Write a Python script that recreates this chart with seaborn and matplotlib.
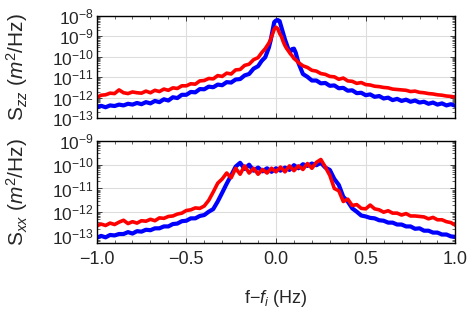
import numpy as np
import pandas as pd
import matplotlib
matplotlib.use("Agg")
import matplotlib.pyplot as plt
import matplotlib.ticker as mticker
import seaborn as sns

sns.set_style("ticks")
plt.rcParams['font.family'] = ['Liberation Sans', 'DejaVu Sans']
plt.rcParams['mathtext.fontset'] = 'custom'
plt.rcParams['mathtext.rm'] = 'Liberation Sans'
plt.rcParams['mathtext.it'] = 'Liberation Sans:italic'

# === data (log10 of PSD) ===
f_top = [-1.0, -0.975, -0.95, -0.925, -0.9, -0.875, -0.85, -0.825, -0.8, -0.775,
         -0.75, -0.725, -0.7, -0.675, -0.65, -0.625, -0.6, -0.575, -0.55, -0.525,
         -0.5, -0.475, -0.45, -0.425, -0.4, -0.375, -0.35, -0.325, -0.3, -0.275,
         -0.25, -0.225, -0.2, -0.175, -0.15, -0.125, -0.1, -0.08, -0.06, -0.04,
         -0.03, -0.02, -0.01, 0.0, 0.01, 0.02, 0.03, 0.04, 0.05, 0.06,
         0.07, 0.08, 0.09, 0.1, 0.11, 0.125, 0.15, 0.175, 0.2, 0.225,
         0.25, 0.275, 0.3, 0.325, 0.35, 0.375, 0.4, 0.425, 0.45, 0.475,
         0.5, 0.525, 0.55, 0.575, 0.6, 0.625, 0.65, 0.675, 0.7, 0.725,
         0.75, 0.775, 0.8, 0.825, 0.85, 0.875, 0.9, 0.925, 0.95, 0.975, 1.0]

szz_red = [-12.00, -11.88, -11.86, -11.78, -11.80, -11.62, -11.76, -11.80, -11.72, -11.76,
           -11.78, -11.68, -11.76, -11.64, -11.70, -11.58, -11.64, -11.52, -11.55, -11.42,
           -11.42, -11.32, -11.34, -11.18, -11.16, -11.06, -11.08, -10.92, -10.96, -10.80,
           -10.84, -10.64, -10.62, -10.42, -10.36, -10.14, -10.04, -9.80, -9.60, -9.33,
           -9.15, -8.90, -8.65, -8.55, -8.62, -8.85, -9.00, -9.25, -9.45, -9.60,
           -9.72, -9.85, -9.95, -10.08, -10.15, -10.28, -10.44, -10.52, -10.66, -10.70,
           -10.82, -10.86, -10.96, -10.98, -11.10, -11.04, -11.18, -11.20, -11.30, -11.26,
           -11.36, -11.38, -11.44, -11.46, -11.50, -11.52, -11.58, -11.60, -11.62, -11.64,
           -11.70, -11.68, -11.74, -11.76, -11.80, -11.82, -11.86, -11.88, -11.92, -11.94, -11.97]

szz_blue = [-12.48, -12.40, -12.47, -12.38, -12.41, -12.34, -12.38, -12.30, -12.34, -12.26,
            -12.32, -12.22, -12.28, -12.16, -12.22, -12.08, -12.14, -11.98, -12.02, -11.86,
            -11.86, -11.72, -11.74, -11.58, -11.59, -11.46, -11.49, -11.36, -11.39, -11.24,
            -11.26, -11.11, -11.09, -10.91, -10.84, -10.58, -10.46, -10.20, -10.02, -9.55,
            -9.20, -8.75, -8.30, -8.22, -8.20, -8.25, -8.55, -8.85, -9.15, -9.40,
            -9.65, -9.75, -9.62, -9.60, -9.80, -10.30, -10.84, -10.98, -11.16, -11.16,
            -11.30, -11.28, -11.42, -11.40, -11.54, -11.52, -11.66, -11.64, -11.78, -11.76,
            -11.88, -11.84, -11.96, -11.92, -12.04, -12.00, -12.12, -12.06, -12.16, -12.10,
            -12.20, -12.14, -12.24, -12.20, -12.30, -12.24, -12.34, -12.28, -12.38, -12.32, -12.40]

f_bot = [-1.0, -0.975, -0.95, -0.925, -0.9, -0.875, -0.85, -0.825, -0.8, -0.775,
         -0.75, -0.725, -0.7, -0.675, -0.65, -0.625, -0.6, -0.575, -0.55, -0.525,
         -0.5, -0.475, -0.45, -0.425, -0.4, -0.375, -0.35, -0.325, -0.3, -0.275,
         -0.25, -0.225, -0.2, -0.175, -0.15, -0.125, -0.1, -0.075, -0.05, -0.025,
         0.0, 0.025, 0.05, 0.075, 0.1, 0.125, 0.15, 0.175, 0.2, 0.225,
         0.25, 0.275, 0.3, 0.325, 0.35, 0.375, 0.4, 0.425, 0.45, 0.475,
         0.5, 0.525, 0.55, 0.575, 0.6, 0.625, 0.65, 0.675, 0.7, 0.725,
         0.75, 0.775, 0.8, 0.825, 0.85, 0.875, 0.9, 0.925, 0.95, 0.975, 1.0]

sxx_red = [-12.58, -12.50, -12.56, -12.46, -12.52, -12.42, -12.34, -12.48, -12.40, -12.46,
           -12.36, -12.38, -12.30, -12.36, -12.24, -12.26, -12.18, -12.16, -12.08, -12.04,
           -11.93, -11.90, -11.82, -11.84, -11.74, -11.50, -11.15, -10.78, -10.60, -10.35,
           -10.55, -10.15, -10.40, -10.05, -10.35, -10.15, -10.40, -10.20, -10.35, -10.15,
           -10.30, -10.10, -10.30, -10.05, -10.25, -10.05, -10.20, -9.95, -10.15, -9.90,
           -9.78, -10.10, -10.45, -11.00, -11.10, -11.55, -11.45, -11.72, -11.68, -11.84,
           -11.86, -11.70, -11.86, -11.90, -12.00, -11.94, -12.04, -12.04, -12.12, -12.06,
           -12.16, -12.16, -12.18, -12.20, -12.28, -12.22, -12.32, -12.32, -12.40, -12.44, -12.55]

sxx_blue = [-13.08, -13.00, -13.06, -12.96, -12.98, -12.92, -12.92, -12.84, -12.90, -12.80,
            -12.82, -12.74, -12.76, -12.68, -12.68, -12.60, -12.60, -12.50, -12.48, -12.38,
            -12.36, -12.26, -12.26, -12.16, -12.12, -11.98, -11.87, -11.55, -11.18, -10.80,
            -10.45, -10.08, -9.92, -10.18, -10.00, -10.25, -10.12, -10.28, -10.15, -10.30,
            -10.15, -10.25, -10.12, -10.22, -10.02, -10.15, -9.98, -10.05, -9.95, -10.02,
            -9.92, -10.12, -10.22, -10.60, -10.85, -11.35, -11.55, -11.84, -11.98, -12.14,
            -12.18, -12.24, -12.26, -12.34, -12.36, -12.44, -12.44, -12.52, -12.52, -12.60,
            -12.60, -12.70, -12.68, -12.78, -12.78, -12.86, -12.86, -12.94, -12.94, -13.02, -13.04]

# === figure ===
fig = plt.figure(figsize=(4.69, 3.14), dpi=100)
ax1 = fig.add_axes([0.206, 0.624, 0.765, 0.325])
ax2 = fig.add_axes([0.206, 0.226, 0.765, 0.325])

panels = [
    (ax1, f_top, szz_blue, szz_red, (1e-13, 1e-8), r'S$_{zz}$ ($m^2$/Hz)'),
    (ax2, f_bot, sxx_blue, sxx_red, (10**-13.3, 1e-9), r'S$_{xx}$ ($m^2$/Hz)'),
]

for ax, f, blue, red, ylim, ylab in panels:
    df = pd.DataFrame({"f": f, "blue": 10.0 ** np.array(blue), "red": 10.0 ** np.array(red)})
    sns.lineplot(data=df, x="f", y="blue", ax=ax, color="blue", lw=3.0)
    sns.lineplot(data=df, x="f", y="red", ax=ax, color="red", lw=2.6)
    ax.set_yscale("log")
    ax.set_xlim(-1.0, 1.0)
    ax.set_ylim(*ylim)
    ax.yaxis.set_major_locator(mticker.LogLocator(base=10, numticks=10))
    ax.yaxis.set_minor_locator(mticker.LogLocator(base=10, subs=np.arange(2, 10), numticks=10))
    ax.yaxis.set_minor_formatter(mticker.NullFormatter())
    ax.xaxis.set_major_locator(mticker.MultipleLocator(0.5))
    ax.xaxis.set_minor_locator(mticker.MultipleLocator(0.1))
    ax.grid(True, which="major", color="#dddddd", lw=0.8)
    ax.tick_params(which="both", direction="in", top=True, right=True, labelsize=12.5, pad=2)
    ax.tick_params(axis="x", labelsize=13, pad=6)
    ax.tick_params(which="major", length=3.5, width=0.6)
    ax.tick_params(which="minor", length=2, width=0.5)
    for s in ax.spines.values():
        s.set_color("black")
        s.set_linewidth(1.0)
    ax.set_xlabel("")
    ax.set_ylabel(ylab, fontsize=15)
    ax.yaxis.set_label_coords(-0.185, 0.5)

ax1.tick_params(labelbottom=False)
ax2.xaxis.set_major_formatter(mticker.FuncFormatter(lambda v, p: f"{v:.1f}".replace("-", "\u2212")))
ax2.set_xlabel(r'f$-$$f_i$ (Hz)', fontsize=13, labelpad=14)

fig.savefig("out.png", dpi=100)
